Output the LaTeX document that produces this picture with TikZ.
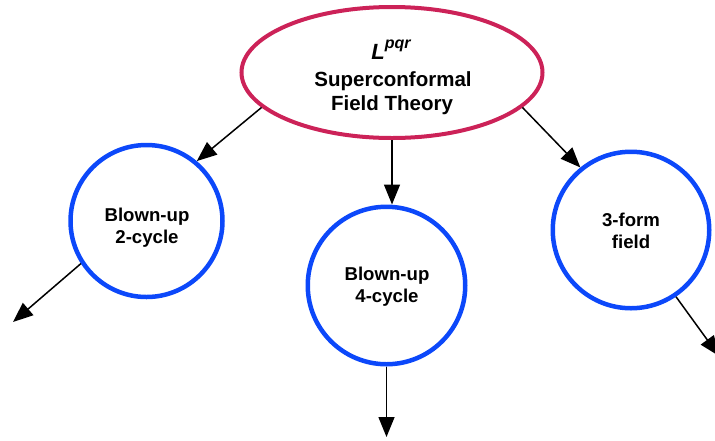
\documentclass[tikz,border=0pt]{standalone}
\usepackage{fontspec}
\setmainfont{Liberation Sans}
\usetikzlibrary{arrows.meta,shapes.geometric}
\definecolor{crim}{RGB}{204,34,88}
\definecolor{bblue}{RGB}{12,72,250}
\newcommand{\twoline}[2]{\begingroup\setlength{\tabcolsep}{0pt}\begin{tabular}[t]{c}#1\\#2\end{tabular}\endgroup}
\tikzset{
  topell/.style={ellipse, draw=crim, line width=4pt, minimum width=301pt, minimum height=131pt, inner sep=0pt},
  topfont/.style={font=\fontsize{20.5}{23}\selectfont\bfseries, inner sep=0pt, anchor=base},
  ring/.style={circle, draw=bblue, line width=4.5pt, inner sep=0pt},
  ringtext/.style={font=\fontsize{18.6}{22}\selectfont\bfseries, inner sep=0pt, anchor=base},
  arr/.style={line width=1.5pt, -{Triangle[length=20pt,width=16pt]}}
}
\begin{document}
\begin{tikzpicture}[x=1pt,y=-1pt]
\useasboundingbox (0,0) rectangle (715,440);
% top ellipse
\node[topell] (sft) at (392,72.5) {};
\node[inner sep=0pt, anchor=base, font=\bfseries\itshape\fontsize{22}{22}\selectfont] (lpqr) at (391,59) {L\raisebox{10.5pt}{\fontsize{16}{16}\selectfont pqr}};
\node[topfont] (sc) at (393,86) {Superconformal};
\node[topfont] (ft) at (392,110) {Field Theory};
% circles
\node[ring, minimum size=152pt] (left) at (146.5,221) {};
\node[ring, minimum size=157.5pt] (mid) at (386.5,285.5) {};
\node[ring, minimum size=156.5pt] (right) at (631,230) {};
\node[ringtext] (lt) at (147,221) {\twoline{Blown-up}{2-cycle}};
\node[ringtext] (mt) at (387,280.5) {\twoline{Blown-up}{4-cycle}};
\node[ringtext] (rt) at (631,226) {\twoline{3-form}{field}};
% free ends
\coordinate (c4) at (13,322);
\coordinate (c5) at (386.5,437);
\coordinate (c6) at (719,356);
% connectors
\draw[arr] (sft.195.5) -- (left.50);
\draw[arr] (sft.south) -- (sft.south |- mid.north);
\draw[arr] (sft.345.4) -- (right.129);
\draw[arr] (left.213) -- (c4);
\draw[arr] (mid.south) -- (c5);
\draw[arr] (right.304.6) -- (c6);
\end{tikzpicture}
\end{document}
